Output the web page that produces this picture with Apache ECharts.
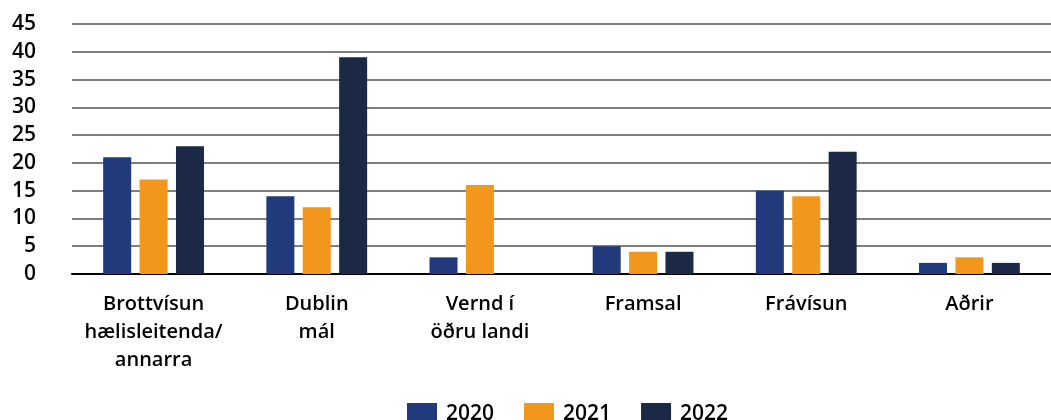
<!DOCTYPE html>
<html>
<head>
<meta charset="utf-8">
<script src="https://cdn.jsdelivr.net/npm/echarts@6/dist/echarts.min.js"></script>
<style>
  html, body { margin: 0; padding: 0; background: #fff; }
  #chart { width: 1051px; height: 420px; }
</style>
</head>
<body>
<div id="chart"></div>
<script>
const categories = ['Brottvísun\nhælisleitenda/\nannarra', 'Dublin\nmál', 'Vernd í\nöðru landi', 'Framsal', 'Frávísun', 'Aðrir'];
const values2020 = [21, 14, 3, 5, 15, 2];
const values2021 = [17, 12, 16, 4, 14, 3];
const values2022 = [23, 39, 0, 4, 22, 2];
const yTicks = [0, 5, 10, 15, 20, 25, 30, 35, 40, 45];

const chart = echarts.init(document.getElementById('chart'));

const font = '"Open Sans", "Noto Sans", sans-serif';

const barSeries = (name, data, color) => ({
  name: name,
  type: 'bar',
  data: data,
  barWidth: 28,
  barGap: '30%',
  itemStyle: { color: color },
  emphasis: { disabled: true }
});

chart.setOption({
  animation: false,
  textStyle: { fontFamily: font },
  grid: { left: 72, right: 0, top: 24, bottom: 146, containLabel: false },
  legend: {
    top: 398,
    left: 402,
    itemWidth: 30,
    itemHeight: 22,
    itemGap: 30,
    icon: 'rect',
    textStyle: { fontSize: 21, fontWeight: 600, color: '#000', fontFamily: font, padding: [0, 0, 0, 4] }
  },
  xAxis: {
    type: 'category',
    data: categories,
    axisLine: { show: true, lineStyle: { color: '#000', width: 2 } },
    axisTick: { show: false },
    axisLabel: {
      fontSize: 20,
      fontWeight: 600,
      color: '#000',
      lineHeight: 28,
      margin: 16,
      interval: 0
    }
  },
  yAxis: {
    type: 'value',
    min: yTicks[0],
    max: yTicks[yTicks.length - 1],
    interval: 5,
    axisLine: { show: false },
    axisTick: { show: false },
    splitLine: { lineStyle: { color: '#555', width: 1.5 } },
    axisLabel: { fontSize: 21, fontWeight: 600, color: '#000', margin: 36 }
  },
  series: [
    barSeries('2020', values2020, '#203A7B'),
    barSeries('2021', values2021, '#F2971B'),
    barSeries('2022', values2022, '#1B2946')
  ]
});
</script>
</body>
</html>
